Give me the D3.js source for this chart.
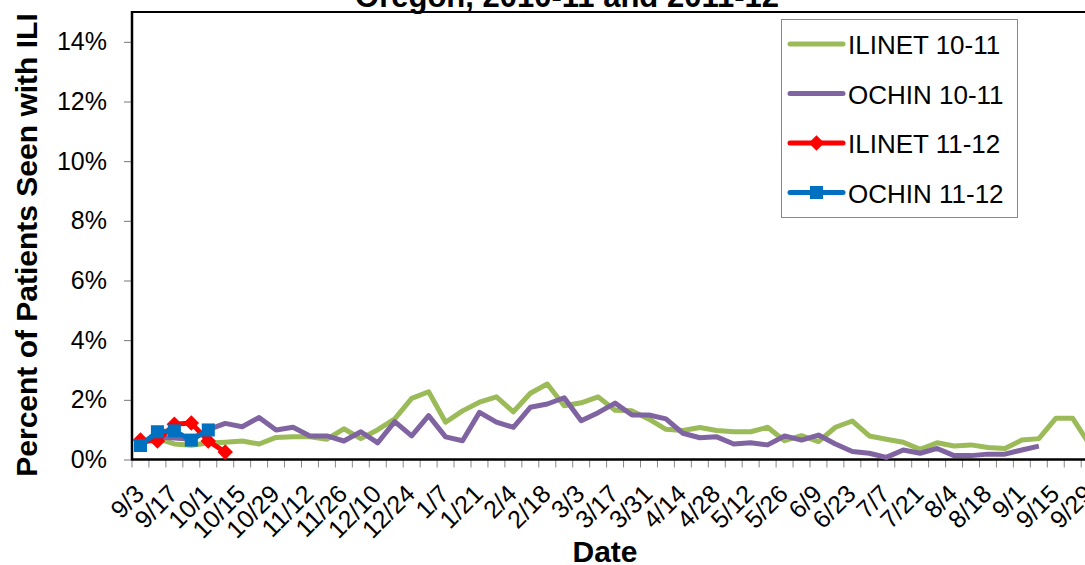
<!DOCTYPE html>
<html>
<head>
<meta charset="utf-8">
<script src="https://cdn.jsdelivr.net/npm/d3@7"></script>
<style>
  body { margin: 0; background: #fff; }
  svg { display: block; font-family: Arial, 'Liberation Sans', sans-serif; }
</style>
</head>
<body>
<svg id="chart"></svg>
<script>
// weekly categories, 9/3 through 9/29
const weeks = ['9/3', '9/10', '9/17', '9/24', '10/1', '10/8', '10/15', '10/22', '10/29', '11/5',
  '11/12', '11/19', '11/26', '12/3', '12/10', '12/17', '12/24', '12/31', '1/7', '1/14',
  '1/21', '1/28', '2/4', '2/11', '2/18', '2/25', '3/3', '3/10', '3/17', '3/24',
  '3/31', '4/7', '4/14', '4/21', '4/28', '5/5', '5/12', '5/19', '5/26', '6/2',
  '6/9', '6/16', '6/23', '6/30', '7/7', '7/14', '7/21', '7/28', '8/4', '8/11',
  '8/18', '8/25', '9/1', '9/8', '9/15', '9/22', '9/29'];

// percent of patients seen with ILI
const ilinet1011 = [0.55, 0.7, 0.52, 0.48, 0.55, 0.58, 0.62, 0.52, 0.74, 0.76,
  0.76, 0.68, 1.03, 0.7, 1.0, 1.36, 2.05, 2.27, 1.25, 1.63,
  1.92, 2.1, 1.6, 2.22, 2.53, 1.8, 1.9, 2.1, 1.65, 1.63,
  1.35, 1.01, 0.97, 1.07, 0.97, 0.93, 0.93, 1.08, 0.63, 0.8,
  0.6, 1.08, 1.29, 0.79, 0.68, 0.58, 0.34, 0.56, 0.45, 0.49,
  0.4, 0.37, 0.65, 0.7, 1.38, 1.38, 0.5];
const ochin1011 = [0.5, 0.75, 0.72, 0.68, 1.0, 1.21, 1.1, 1.41, 0.99, 1.08,
  0.79, 0.79, 0.62, 0.93, 0.56, 1.27, 0.79, 1.47, 0.76, 0.63,
  1.58, 1.25, 1.08, 1.75, 1.86, 2.07, 1.3, 1.57, 1.89, 1.49,
  1.49, 1.36, 0.88, 0.73, 0.76, 0.52, 0.56, 0.49, 0.79, 0.65,
  0.82, 0.52, 0.27, 0.21, 0.07, 0.32, 0.21, 0.37, 0.13, 0.13,
  0.18, 0.18, 0.32, 0.45];
const ilinet1112 = [0.65, 0.62, 1.18, 1.22, 0.62, 0.25];
const ochin1112 = [0.47, 0.93, 0.96, 0.65, 0.99];

const yTicks = [0, 2, 4, 6, 8, 10, 12, 14];

const series = [
  {name: 'ILINET 10-11', values: ilinet1011, color: '#9BBB59', marker: null},
  {name: 'OCHIN 10-11', values: ochin1011, color: '#8064A2', marker: null},
  {name: 'ILINET 11-12', values: ilinet1112, color: '#FF0000', marker: 'diamond'},
  {name: 'OCHIN 11-12', values: ochin1112, color: '#0070C0', marker: 'square'},
];

const W = 1085, H = 565;
const plotLeft = 132, plotTop = 12, plotBottom = 459.5;
const band = 16.95;

const svg = d3.select('#chart').attr('width', W).attr('height', H);

const x = d3.scaleBand()
  .domain(weeks)
  .range([plotLeft, plotLeft + band * weeks.length])
  .padding(0);

const y = d3.scaleLinear()
  .domain([0, 15])
  .range([plotBottom, plotTop]);

const cx = d => x(d) + x.bandwidth() / 2;

// title (runs off the top of the picture)
svg.append('text')
  .attr('x', 567).attr('y', 7)
  .attr('text-anchor', 'middle')
  .attr('font-size', 31).attr('font-weight', 'bold')
  .text('Oregon, 2010-11 and 2011-12');

// plot frame top line
svg.append('line')
  .attr('x1', plotLeft).attr('x2', W + 20)
  .attr('y1', plotTop).attr('y2', plotTop)
  .attr('stroke', '#000').attr('stroke-width', 2);

// y axis
const yAxis = d3.axisLeft(y)
  .tickValues(yTicks)
  .tickFormat(d => d + '%')
  .tickSize(8)
  .tickPadding(17);

const gy = svg.append('g')
  .attr('transform', `translate(${plotLeft}, 0)`)
  .call(yAxis);
gy.select('.domain').remove();
gy.selectAll('.tick line').attr('stroke', '#777').attr('stroke-width', 1);
gy.selectAll('.tick text').attr('font-size', 25).attr('fill', '#000')
  .attr('font-family', 'Arial, Liberation Sans, sans-serif');

// x axis: tick marks at every category boundary, labels on every other week
const bounds = weeks.map(w => x(w)).concat([x.range()[1]]);
svg.append('g').selectAll('line')
  .data(bounds)
  .enter().append('line')
  .attr('x1', d => d).attr('x2', d => d)
  .attr('y1', plotBottom).attr('y2', plotBottom + 8)
  .attr('stroke', '#888').attr('stroke-width', 1);

svg.append('g').selectAll('text')
  .data(weeks.filter((w, i) => i % 2 === 0))
  .enter().append('text')
  .attr('transform', d => `translate(${cx(d) + 5}, ${plotBottom + 36}) rotate(-45)`)
  .attr('text-anchor', 'end')
  .attr('font-size', 25)
  .text(d => d);

// axis lines
svg.append('line')
  .attr('x1', plotLeft).attr('x2', plotLeft)
  .attr('y1', plotTop - 1).attr('y2', plotBottom + 1)
  .attr('stroke', '#000').attr('stroke-width', 2.5);
svg.append('line')
  .attr('x1', plotLeft).attr('x2', W + 20)
  .attr('y1', plotBottom).attr('y2', plotBottom)
  .attr('stroke', '#000').attr('stroke-width', 2.5);

// series lines
const line = d3.line()
  .x((d, i) => cx(weeks[i]))
  .y(d => y(d));

series.forEach(s => {
  svg.append('path')
    .datum(s.values)
    .attr('d', line)
    .attr('fill', 'none')
    .attr('stroke', s.color)
    .attr('stroke-width', 5)
    .attr('stroke-linejoin', 'round');

  if (s.marker) {
    const sym = d3.symbol()
      .type(d3.symbolSquare)
      .size(s.marker === 'diamond' ? 120 : 170);
    svg.append('g').selectAll('path')
      .data(s.values)
      .enter().append('path')
      .attr('d', sym)
      .attr('transform', (d, i) => `translate(${cx(weeks[i])}, ${y(d)})` + (s.marker === 'diamond' ? ' rotate(45)' : ''))
      .attr('fill', s.color);
  }
});

// axis titles
svg.append('text')
  .attr('x', 605).attr('y', 562)
  .attr('text-anchor', 'middle')
  .attr('font-size', 30).attr('font-weight', 'bold')
  .text('Date');

svg.append('text')
  .attr('transform', 'translate(37, 245) rotate(-90)')
  .attr('text-anchor', 'middle')
  .attr('font-size', 30).attr('font-weight', 'bold')
  .text('Percent of Patients Seen with ILI');

// legend
const legend = svg.append('g');
legend.append('rect')
  .attr('x', 781.5).attr('y', 19.5)
  .attr('width', 236).attr('height', 198)
  .attr('fill', '#fff').attr('stroke', '#888').attr('stroke-width', 1);

const rows = legend.selectAll('g.item')
  .data(series)
  .enter().append('g')
  .attr('class', 'item')
  .attr('transform', (d, i) => `translate(0, ${44 + i * 49.5})`);

rows.append('line')
  .attr('x1', 790).attr('x2', 843)
  .attr('stroke', d => d.color)
  .attr('stroke-width', 5)
  .attr('stroke-linecap', 'round');

rows.filter(d => d.marker)
  .append('path')
  .attr('d', d => d3.symbol().type(d3.symbolSquare).size(d.marker === 'diamond' ? 120 : 170)())
  .attr('transform', d => 'translate(816.5, 0)' + (d.marker === 'diamond' ? ' rotate(45)' : ''))
  .attr('fill', d => d.color);

rows.append('text')
  .attr('x', 848).attr('y', 10)
  .attr('font-size', 26)
  .text(d => d.name);
</script>
</body>
</html>
